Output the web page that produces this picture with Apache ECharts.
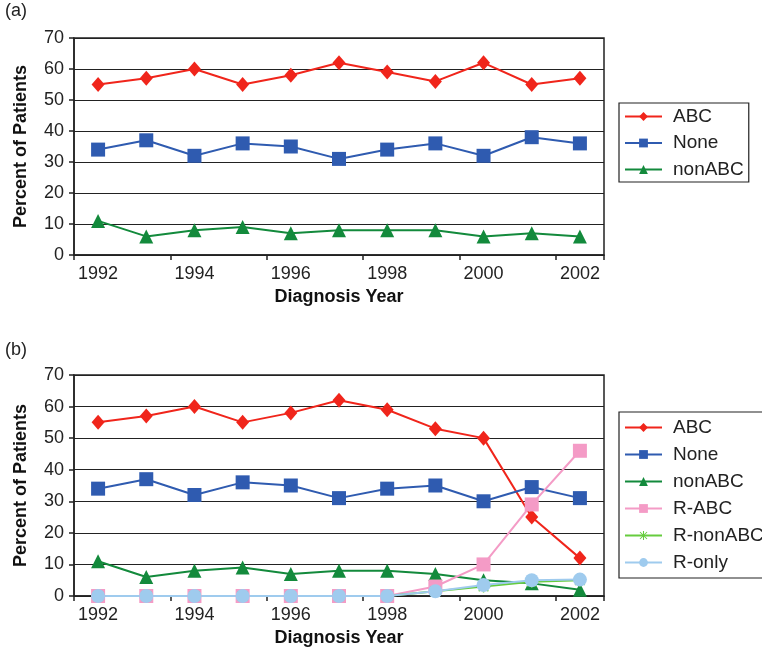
<!DOCTYPE html>
<html>
<head>
<meta charset="utf-8">
<script src="https://cdn.jsdelivr.net/npm/echarts@6/dist/echarts.min.js"></script>
<style>
html,body{margin:0;padding:0;background:#fff;}
#chart{width:762px;height:658px;}
</style>
</head>
<body>
<div id="chart"></div>
<script>
const years = ['1992','1993','1994','1995','1996','1997','1998','1999','2000','2001','2002'];
const yTicks = [0,10,20,30,40,50,60,70];

// Panel (a)
const abcA    = [55,57,60,55,58,62,59,56,62,55,57];
const noneA   = [34,37,32,36,35,31,34,36,32,38,36];
const nonAbcA = [11,6,8,9,7,8,8,8,6,7,6];

// Panel (b)
const abcB     = [55,57,60,55,58,62,59,53,50,25,12];
const noneB    = [34,37,32,36,35,31,34,35,30,34.5,31];
const nonAbcB  = [11,6,8,9,7,8,8,7,5,4,2];
const rAbcB    = [0,0,0,0,0,0,0,3,10,29,46];
const rNonAbcB = [0,0,0,0,0,0,0,1.5,3,4.5,5];
const rOnlyB   = [0,0,0,0,0,0,0,1.5,3.5,5,5.2];

const C = {
  abc:'#f0251b', none:'#2f5bb0', nonabc:'#138a3c',
  rabc:'#f49bc6', rnonabc:'#66cc3e', ronly:'#9fcbee'
};
const FONT = 'Liberation Sans, Arial, sans-serif';
const asterisk = 'path://M4.4 0L5.6 0L5.6 10L4.4 10Z M0 4.4L10 4.4L10 5.6L0 5.6Z ' +
  'M0.6 1.4L1.4 0.6L9.4 8.6L8.6 9.4Z M8.6 0.6L9.4 1.4L1.4 9.4L0.6 8.6Z';

function xAxisFor(gi){
  return {
    type:'category', gridIndex:gi, data:years, boundaryGap:true,
    name:'Diagnosis Year', nameLocation:'middle', nameGap:33,
    nameTextStyle:{fontFamily:FONT, fontSize:18, fontWeight:'bold', color:'#111'},
    axisLine:{show:true, lineStyle:{color:'#222', width:1.5}},
    axisTick:{show:true, length:5, inside:false, lineStyle:{color:'#222', width:1.5}},
    axisLabel:{interval:1, fontFamily:FONT, fontSize:18, color:'#222', margin:10},
    splitLine:{show:false}
  };
}
function yAxisFor(gi){
  return {
    type:'value', gridIndex:gi, min:yTicks[0], max:yTicks[yTicks.length-1], interval:10,
    name:'Percent of Patients', nameLocation:'middle', nameGap:44,
    nameTextStyle:{fontFamily:FONT, fontSize:18, fontWeight:'bold', color:'#111'},
    axisLine:{show:true, lineStyle:{color:'#222', width:1.5}},
    axisTick:{show:true, length:5, lineStyle:{color:'#222', width:1.5}},
    axisLabel:{fontFamily:FONT, fontSize:18, color:'#222', margin:10},
    splitLine:{show:true, lineStyle:{color:'#222', width:1.2}}
  };
}
function ser(name, data, color, symbol, size, gi){
  return {
    name, type:'line', data, xAxisIndex:gi, yAxisIndex:gi,
    symbol, symbolSize:size, showAllSymbol:true,
    lineStyle:{color, width:2},
    itemStyle:{color},
    emphasis:{disabled:true}, animation:false, z:2
  };
}

const chart = echarts.init(document.getElementById('chart'), null, {renderer:'canvas'});
chart.setOption({
  backgroundColor:'#ffffff',
  animation:false,
  grid:[
    {left:74, width:530, top:38, height:217, show:true, borderColor:'#222', borderWidth:1.5, backgroundColor:'transparent'},
    {left:74, width:530, top:375, height:221, show:true, borderColor:'#222', borderWidth:1.5, backgroundColor:'transparent'}
  ],
  graphic:[
    {type:'text', left:5, top:2, style:{text:'(a)', fontFamily:FONT, fontSize:18, fill:'#222'}},
    {type:'text', left:5, top:341, style:{text:'(b)', fontFamily:FONT, fontSize:18, fill:'#222'}}
  ],
  legend:[
    {
      orient:'vertical', left:619, top:103, padding:[4,5,3,5],
      borderColor:'#222', borderWidth:1.2, itemWidth:37, itemHeight:11, itemGap:7.5,
      data:['ABC','None','nonABC'],
      textStyle:{fontFamily:FONT, fontSize:19, color:'#222', lineHeight:18, padding:[0,0,0,6]},
      selectedMode:false
    },
    {
      orient:'vertical', left:619, top:412, padding:[6,6,6,5],
      borderColor:'#222', borderWidth:1.2, itemWidth:37, itemHeight:11, itemGap:8,
      data:['ABC','None','nonABC','R-ABC','R-nonABC','R-only'],
      textStyle:{fontFamily:FONT, fontSize:19, color:'#222', lineHeight:18, padding:[0,0,0,6]},
      selectedMode:false
    }
  ],
  xAxis:[xAxisFor(0), xAxisFor(1)],
  yAxis:[yAxisFor(0), yAxisFor(1)],
  series:[
    ser('ABC', abcA, C.abc, 'diamond', [13,15], 0),
    ser('None', noneA, C.none, 'rect', 14, 0),
    ser('nonABC', nonAbcA, C.nonabc, 'triangle', 14, 0),
    ser('ABC', abcB, C.abc, 'diamond', [13,15], 1),
    ser('None', noneB, C.none, 'rect', 14, 1),
    ser('nonABC', nonAbcB, C.nonabc, 'triangle', 14, 1),
    ser('R-ABC', rAbcB, C.rabc, 'rect', 14, 1),
    ser('R-nonABC', rNonAbcB, C.rnonabc, asterisk, 12, 1),
    ser('R-only', rOnlyB, C.ronly, 'circle', 14, 1)
  ]
});
</script>
</body>
</html>
